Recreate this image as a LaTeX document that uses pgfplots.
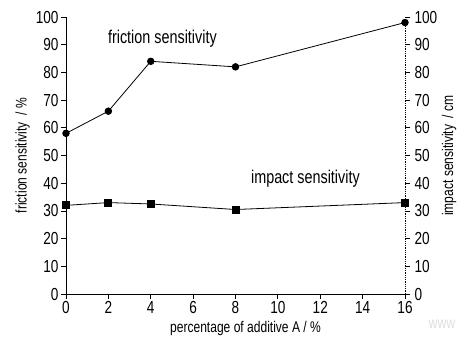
\documentclass[border=0pt]{standalone}
\usepackage{fontspec}
\setmainfont{Liberation Sans}[FakeStretch=0.78]
\usepackage{pgfplots}
\pgfplotsset{compat=1.18}
\usetikzlibrary{calc}
\begin{document}
\begin{tikzpicture}
\pgfplotsset{
  base/.style={scale only axis, width=339bp, height=277bp,
    xmin=0, xmax=16, ymin=0, ymax=100,
    /pgf/number format/assume math mode=true,
    tick align=outside, major tick length=5bp,
    tick style={black, line width=0.8pt},
    ticklabel style={font=\fontsize{17.5}{17.5}\selectfont},
    label style={font=\fontsize{15.5}{15.5}\selectfont},
    clip=false}
}
\begin{axis}[base, name=ax,
  axis x line*=bottom, axis y line*=left,
  axis line style={-, line width=1pt},
  xtick={0,2,...,16}, ytick={0,10,...,100},
  xticklabel style={yshift=1bp},
  yticklabel style={xshift=1bp},
  xlabel={percentage of additive A / \%},
  xlabel style={yshift=-1bp, xshift=10bp},
  ylabel={friction sensitivity \ / \%},
  ylabel style={yshift=-1bp}]
\addplot[black, line width=0.8pt, mark=*, mark size=3.3bp] coordinates {(0,58) (2,66) (4,84) (8,82) (16,98)};
\node[font=\fontsize{18.5}{18.5}\selectfont] at (axis cs:4.55,92) {friction sensitivity};
\end{axis}
\begin{axis}[base,
  axis x line=none, axis y line*=right,
  axis line style={-, densely dotted, line width=0.8pt},
  ytick={0,10,...,100},
  yticklabel style={xshift=1bp},
  ylabel={impact sensitivity \ / cm},
  ylabel style={yshift=2bp}]
\addplot[black, line width=0.8pt, mark=square*, mark size=3.5bp] coordinates {(0,32) (2,33) (4,32.5) (8,30.5) (16,33)};
\node[font=\fontsize{18.5}{18.5}\selectfont] at (axis cs:11.3,41.5) {impact sensitivity};
\end{axis}
\node[gray!25, font=\fontsize{16}{16}\selectfont, inner sep=0pt] at ($(ax.south west)+(376bp,-30bp)$) {www};
\pgfresetboundingbox
\path ($(ax.south west)+(-66bp,-48bp)$) rectangle ($(ax.north east)+(62bp,17bp)$);
\end{tikzpicture}
\end{document}
